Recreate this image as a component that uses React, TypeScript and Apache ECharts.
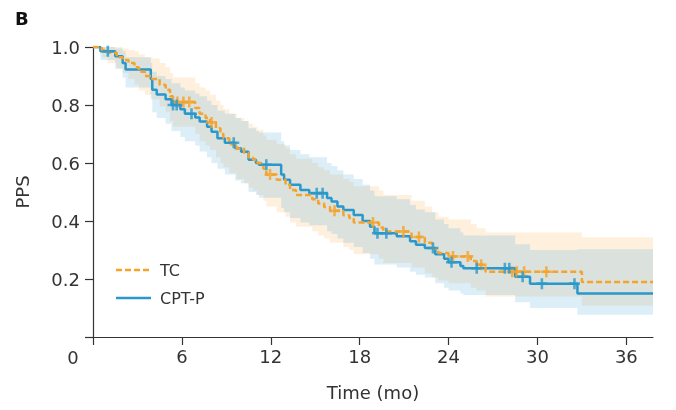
import React, { useEffect, useRef } from "react";
import * as echarts from "echarts";

const X_END = 37.8;
const xTickValues = [0, 6, 12, 18, 24, 30, 36];

// TC group (orange dashed)
const tcTimes = [0, 0.6, 1.0, 1.6, 2.0, 2.4, 2.8, 3.1, 3.5, 4.0, 4.5, 4.9, 5.2, 5.4, 6.9, 7.2, 7.6, 7.9, 8.3, 8.6, 8.8, 9.2, 9.7, 10.2, 10.5, 10.8, 11.1, 11.5, 11.7, 12.4, 13.0, 13.3, 13.7, 14.8, 15.2, 15.6, 16.0, 16.9, 17.3, 17.6, 19.3, 19.6, 21.5, 22.4, 22.9, 23.3, 24.0, 25.5, 25.9, 26.5, 33.0];
const tcSurv = [1.0, 0.99, 0.98, 0.965, 0.955, 0.945, 0.93, 0.915, 0.9, 0.89, 0.87, 0.853, 0.83, 0.81, 0.79, 0.77, 0.755, 0.74, 0.72, 0.7, 0.685, 0.665, 0.65, 0.635, 0.62, 0.611, 0.6, 0.58, 0.56, 0.542, 0.525, 0.507, 0.49, 0.475, 0.46, 0.448, 0.435, 0.42, 0.41, 0.395, 0.378, 0.364, 0.345, 0.325, 0.305, 0.29, 0.278, 0.262, 0.249, 0.225, 0.19];
const tcLower = [1.0, 0.965, 0.945, 0.925, 0.91, 0.89, 0.87, 0.85, 0.835, 0.82, 0.795, 0.775, 0.745, 0.725, 0.7, 0.675, 0.66, 0.645, 0.62, 0.6, 0.585, 0.565, 0.545, 0.53, 0.515, 0.505, 0.49, 0.47, 0.45, 0.43, 0.415, 0.395, 0.38, 0.365, 0.35, 0.34, 0.325, 0.31, 0.3, 0.285, 0.27, 0.255, 0.24, 0.22, 0.205, 0.195, 0.185, 0.17, 0.16, 0.14, 0.108];
const tcUpper = [1.0, 1.0, 1.0, 1.0, 0.995, 0.99, 0.985, 0.975, 0.965, 0.96, 0.945, 0.93, 0.91, 0.895, 0.875, 0.86, 0.85, 0.835, 0.815, 0.8, 0.785, 0.77, 0.755, 0.745, 0.735, 0.725, 0.715, 0.695, 0.68, 0.665, 0.65, 0.63, 0.615, 0.6, 0.585, 0.575, 0.56, 0.545, 0.535, 0.52, 0.505, 0.49, 0.47, 0.45, 0.43, 0.415, 0.405, 0.39, 0.375, 0.36, 0.344];
const tcCensor = [5.7, 6.1, 6.5, 8.0, 11.95, 16.3, 18.9, 20.95, 22.0, 24.3, 25.3, 26.2, 28.3, 28.6, 29.1, 30.6];

// CPT-P group (blue solid)
const cpTimes = [0, 0.5, 1.5, 2.0, 2.2, 3.9, 4.0, 4.3, 4.9, 5.3, 5.9, 6.2, 6.9, 7.2, 7.7, 8.0, 8.4, 8.9, 9.6, 10.0, 10.5, 11.0, 11.2, 12.7, 12.9, 13.3, 14.0, 14.6, 15.8, 16.1, 16.5, 16.9, 17.6, 18.2, 18.7, 19.0, 20.5, 21.4, 21.8, 22.4, 23.1, 23.7, 24.0, 24.8, 25.0, 28.5, 29.5, 32.7];
const cpSurv = [1.0, 0.985, 0.968, 0.945, 0.922, 0.89, 0.853, 0.836, 0.82, 0.8, 0.785, 0.77, 0.757, 0.743, 0.725, 0.708, 0.685, 0.67, 0.651, 0.639, 0.611, 0.6, 0.594, 0.56, 0.542, 0.525, 0.507, 0.496, 0.479, 0.467, 0.45, 0.438, 0.421, 0.4, 0.38, 0.358, 0.347, 0.33, 0.318, 0.307, 0.285, 0.27, 0.258, 0.245, 0.237, 0.208, 0.184, 0.15];
const cpLower = [1.0, 0.955, 0.925, 0.895, 0.86, 0.82, 0.775, 0.755, 0.735, 0.71, 0.69, 0.675, 0.66, 0.64, 0.62, 0.6, 0.58, 0.56, 0.54, 0.53, 0.5, 0.49, 0.48, 0.445, 0.43, 0.41, 0.395, 0.385, 0.365, 0.355, 0.34, 0.325, 0.31, 0.29, 0.27, 0.25, 0.24, 0.225, 0.215, 0.205, 0.185, 0.17, 0.16, 0.15, 0.145, 0.12, 0.1, 0.077];
const cpUpper = [1.0, 1.0, 0.995, 0.985, 0.965, 0.945, 0.915, 0.9, 0.89, 0.875, 0.86, 0.85, 0.84, 0.83, 0.815, 0.8, 0.78, 0.77, 0.755, 0.745, 0.72, 0.71, 0.705, 0.675, 0.66, 0.645, 0.63, 0.62, 0.6, 0.59, 0.575, 0.56, 0.545, 0.525, 0.505, 0.485, 0.475, 0.455, 0.44, 0.43, 0.405, 0.39, 0.375, 0.36, 0.35, 0.32, 0.3, 0.303];
const cpCensor = [1.0, 5.4, 5.65, 6.65, 9.5, 11.7, 15.1, 15.5, 19.2, 19.8, 22.95, 24.2, 25.9, 27.8, 28.1, 29.0, 30.3, 32.5];

const legendNames = ["TC", "CPT-P"];

const ORANGE = "#F5A32C";
const BLUE = "#2A98CB";
const PLUS = "path://M4.2,0h2.6v4.2h4.2v2.6h-4.2v4.2h-2.6v-4.2h-4.2v-2.6h4.2z";
const FONT = "DejaVu Sans";

function survAt(times: number[], surv: number[], t: number) {
  let s = surv[0];
  for (let i = 0; i < times.length; i++) if (times[i] <= t) s = surv[i];
  return s;
}

function stepData(times: number[], surv: number[]) {
  const d = times.map((t, i) => [t, surv[i]]);
  d.push([X_END, surv[surv.length - 1]]);
  return d;
}

function bandSeries(name: string, times: number[], lower: number[], upper: number[], fill: string, z: number) {
  return {
    name,
    type: "custom",
    silent: true,
    z,
    coordinateSystem: "cartesian2d",
    data: [[0, 0]],
    encode: { x: 0, y: 1 },
    renderItem: (_params: any, api: any) => {
      const n = times.length;
      const pts: number[][] = [];
      for (let i = 0; i < n; i++) {
        const t1 = i + 1 < n ? times[i + 1] : X_END;
        pts.push(api.coord([times[i], upper[i]]));
        pts.push(api.coord([t1, upper[i]]));
      }
      for (let i = n - 1; i >= 0; i--) {
        const t1 = i + 1 < n ? times[i + 1] : X_END;
        pts.push(api.coord([t1, lower[i]]));
        pts.push(api.coord([times[i], lower[i]]));
      }
      return { type: "polygon", shape: { points: pts }, style: { fill } };
    },
  };
}

export default function App() {
  const ref = useRef<HTMLDivElement>(null);
  useEffect(() => {
    if (!ref.current) return;
    const chart = echarts.init(ref.current, undefined, { renderer: "svg" });
    const axisColor = "#333";
    chart.setOption({
      animation: false,
      textStyle: { fontFamily: FONT },
      grid: { left: 93, right: 23, top: 47, bottom: 73 },
      xAxis: {
        type: "value",
        min: 0,
        max: X_END,
        interval: 6,
        name: "Time (mo)",
        nameLocation: "middle",
        nameGap: 46,
        nameTextStyle: { fontSize: 18, color: "#333", fontFamily: FONT },
        axisLine: { show: true, lineStyle: { color: axisColor, width: 1.2 } },
        axisTick: { show: true, length: 8, customValues: xTickValues, lineStyle: { color: axisColor, width: 1.2 } },
        axisLabel: {
          customValues: xTickValues,
          margin: 10,
          fontSize: 18,
          color: "#333",
          fontFamily: FONT,
          formatter: (v: number) => (v === 0 ? "" : String(v)),
        },
        splitLine: { show: false },
      },
      yAxis: {
        type: "value",
        min: 0,
        max: 1,
        interval: 0.2,
        name: "PPS",
        nameLocation: "middle",
        nameGap: 62,
        nameTextStyle: { fontSize: 18, color: "#333", fontFamily: FONT },
        axisLine: { show: true, lineStyle: { color: axisColor, width: 1.2 } },
        axisTick: { show: true, length: 8, lineStyle: { color: axisColor, width: 1.2 } },
        axisLabel: {
          margin: 13,
          fontSize: 18,
          color: "#333",
          fontFamily: FONT,
          formatter: (v: number) => (v === 0 ? "" : v.toFixed(1)),
        },
        splitLine: { show: false },
      },
      graphic: [
        {
          type: "text",
          left: 15,
          top: 9,
          style: { text: "B", font: `bold 18px '${FONT}'`, fill: "#111" },
        },
        {
          type: "text",
          x: 73,
          y: 357,
          style: { text: "0", fontSize: 18, fontFamily: FONT, fill: "#333", textAlign: "center", textVerticalAlign: "middle" },
        },
        {
          type: "line",
          shape: { x1: 116, y1: 270, x2: 151, y2: 270 },
          style: { stroke: ORANGE, lineWidth: 2.5, lineDash: [6, 3] },
        },
        {
          type: "text",
          x: 160,
          y: 270,
          style: { text: legendNames[0], fontSize: 16, fontFamily: FONT, fill: "#333", textVerticalAlign: "middle" },
        },
        {
          type: "line",
          shape: { x1: 116, y1: 298, x2: 151, y2: 298 },
          style: { stroke: BLUE, lineWidth: 2.5 },
        },
        {
          type: "text",
          x: 160,
          y: 298,
          style: { text: legendNames[1], fontSize: 16, fontFamily: FONT, fill: "#333", textVerticalAlign: "middle" },
        },
      ],
      series: [
        bandSeries("TC band", tcTimes, tcLower, tcUpper, "rgba(253,225,185,0.5)", 1),
        bandSeries("CPT-P band", cpTimes, cpLower, cpUpper, "rgba(115,187,227,0.25)", 2),
        {
          name: "TC",
          type: "line",
          step: "end",
          symbol: "none",
          z: 4,
          data: stepData(tcTimes, tcSurv),
          lineStyle: { color: ORANGE, width: 2.5, type: [6, 3] },
          itemStyle: { color: ORANGE },
        },
        {
          name: "CPT-P",
          type: "line",
          step: "end",
          symbol: "none",
          z: 3,
          data: stepData(cpTimes, cpSurv),
          lineStyle: { color: BLUE, width: 2.5 },
          itemStyle: { color: BLUE },
        },
        {
          name: "TC censored",
          type: "scatter",
          symbol: PLUS,
          symbolSize: 11,
          z: 5,
          data: tcCensor.map((t) => [t, survAt(tcTimes, tcSurv, t)]),
          itemStyle: { color: ORANGE },
        },
        {
          name: "CPT-P censored",
          type: "scatter",
          symbol: PLUS,
          symbolSize: 11,
          z: 5,
          data: cpCensor.map((t) => [t, survAt(cpTimes, cpSurv, t)]),
          itemStyle: { color: BLUE },
        },
      ],
    });
    return () => chart.dispose();
  }, []);
  return <div ref={ref} style={{ position: "fixed", left: 0, top: 0, width: 676, height: 410 }} />;
}
